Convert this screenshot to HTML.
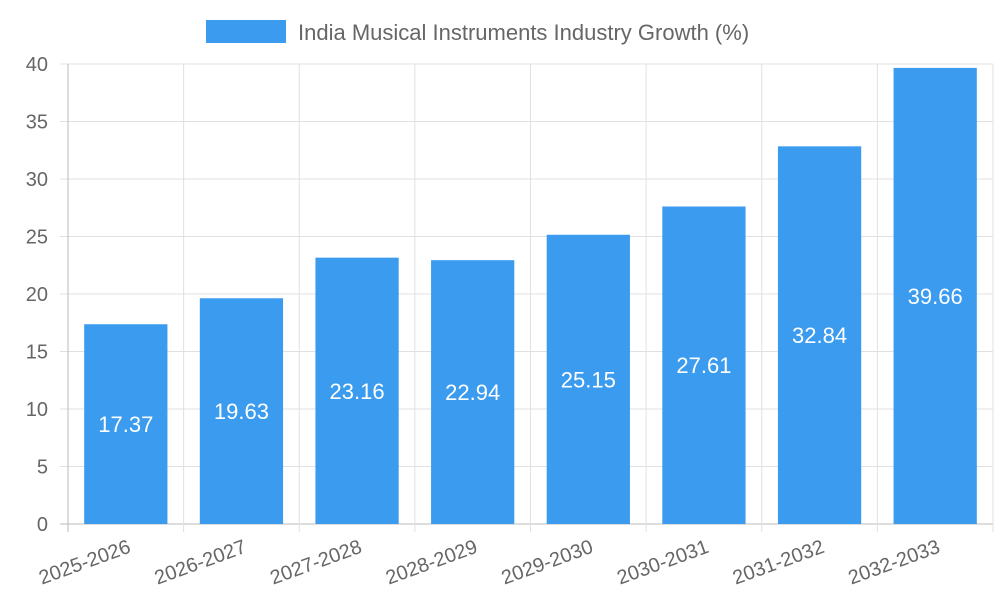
<!DOCTYPE html>
<html><head><meta charset="utf-8"><style>
html,body{margin:0;padding:0;background:#fff;}
svg{display:block;font-family:"Liberation Sans",sans-serif;}
</style></head><body>
<svg id="chart" width="1000" height="600" viewBox="0 0 1000 600">
<g>
<rect x="206" y="20" width="80" height="23" fill="#3a9bef"/>
<text x="298" y="40" font-size="22" fill="#666">India Musical Instruments Industry Growth (%)</text>
</g>
<g id="grid"></g>
<g id="bars"></g>
<g id="axes"></g>
</svg>
<script>
const categories=["2025-2026","2026-2027","2027-2028","2028-2029","2029-2030","2030-2031","2031-2032","2032-2033"];
const values=[17.37,19.63,23.16,22.94,25.15,27.61,32.84,39.66];
const yTicks=[0,5,10,15,20,25,30,35,40];
const NS="http://www.w3.org/2000/svg";
const L=68,R=993,T=64,B=524,yMax=40;
const y=v=>B-(v/yMax)*(B-T);
const band=(R-L)/categories.length;
const x=i=>L+i*band;
function mk(tag,attrs,parent){const e=document.createElementNS(NS,tag);for(const k in attrs)e.setAttribute(k,attrs[k]);parent.appendChild(e);return e;}
const grid=document.getElementById('grid'),bars=document.getElementById('bars'),axes=document.getElementById('axes');
yTicks.forEach(t=>{
 const ln=mk('line',{x1:L-8,x2:R,y1:y(t),y2:y(t),stroke:t===0?'#bbb':'#e0e0e0','stroke-width':1},grid);
 
 
 const tx=mk('text',{x:L-20,y:y(t)+7,'font-size':20,fill:'#666','text-anchor':'end'},axes);
 tx.textContent=t;
 
 
});
for(let i=0;i<=categories.length;i++){
 const ln=mk('line',{x1:x(i),x2:x(i),y1:T,y2:B+8,stroke:i===0?'#bbb':'#e0e0e0','stroke-width':1},grid);
 
 
}
categories.forEach((c,i)=>{
 const w=band*0.72,bx=x(i)+(band-w)/2,top=y(values[i]);
 const r=mk('rect',{x:bx,y:top,width:w,height:B-top,fill:'#3a9bef'},bars);
 
 
 const lb=mk('text',{x:bx+w/2,y:(top+B)/2+8,'font-size':22,fill:'#fff','text-anchor':'middle'},bars);
 lb.textContent=values[i].toFixed(2);
 
 
 const cx=x(i)+band/2;
 const tl=mk('text',{x:cx+6,y:B+28,'font-size':20,fill:'#666','text-anchor':'end',transform:`rotate(-20 ${cx+6} ${B+28})`},axes);
 tl.textContent=c;
 
 
});
</script>
</body></html>
